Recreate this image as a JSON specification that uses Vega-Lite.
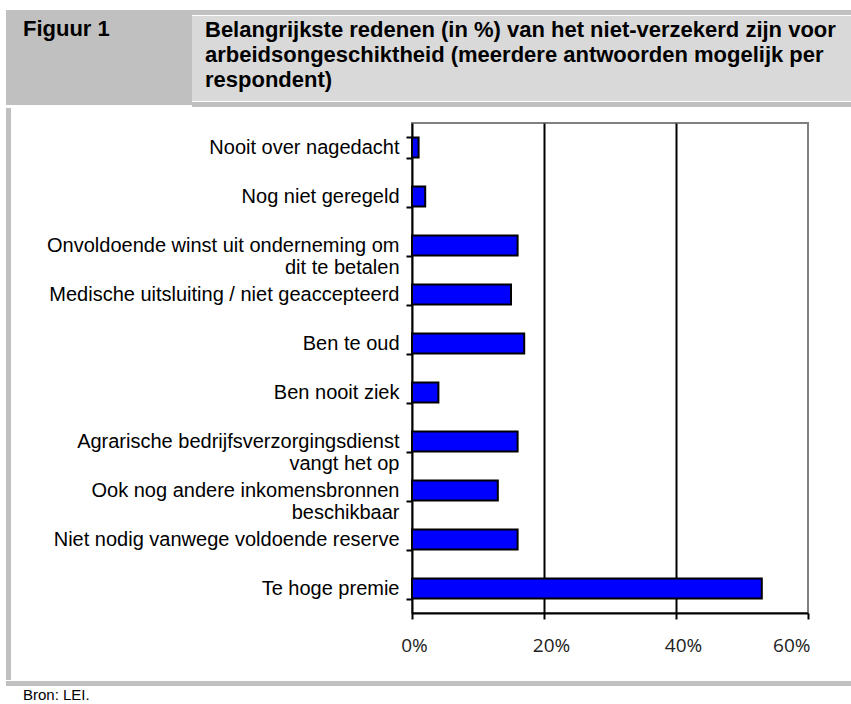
{
  "$schema": "https://vega.github.io/schema/vega-lite/v6.json",
  "background": "white",
  "padding": {"left": 5, "top": 9, "right": 0, "bottom": 0},
  "spacing": 0,
  "config": {"view": {"stroke": null}, "font": "Liberation Sans"},
  "vconcat": [
    {
      "spacing": 0,
      "hconcat": [
        {
          "width": 186, "height": 95,
          "view": {"fill": "#c0c0c0", "stroke": null},
          "title": {"text": "Figuur 1", "orient": "top", "anchor": "start", "frame": "group", "offset": -31, "dx": 17, "font": "Liberation Sans", "fontSize": 22, "fontWeight": "bold", "color": "black"},
          "data": {"values": [{"a": 1}]},
          "mark": {"type": "point", "opacity": 0},
          "encoding": {}
        },
        {
          "spacing": 0,
          "vconcat": [
            {"width": 660, "height": 5, "view": {"fill": "#c0c0c0", "stroke": null}, "data": {"values": [{"a": 1}]}, "mark": {"type": "point", "opacity": 0}, "encoding": {}},
            {
              "width": 660, "height": 85,
              "view": {"fill": "#d9d9d9", "stroke": null},
              "title": {"text": ["Belangrijkste redenen (in %) van het niet-verzekerd zijn voor", "arbeidsongeschiktheid (meerdere antwoorden mogelijk per", "respondent)"], "orient": "top", "anchor": "start", "frame": "group", "offset": -76, "dx": 13, "lineHeight": 25, "font": "Liberation Sans", "fontSize": 22, "fontWeight": "bold", "color": "black"},
              "data": {"values": [{"a": 1}]},
              "mark": {"type": "point", "opacity": 0},
              "encoding": {}
            },
            {"width": 660, "height": 5, "view": {"fill": "#c0c0c0", "stroke": null}, "data": {"values": [{"a": 1}]}, "mark": {"type": "point", "opacity": 0}, "encoding": {}}
          ]
        }
      ]
    },
    {
      "spacing": 0,
      "hconcat": [
        {"width": 5, "height": 572, "view": {"fill": "#c0c0c0", "stroke": null}, "data": {"values": [{"a": 1}]}, "mark": {"type": "point", "opacity": 0}, "encoding": {}},
        {"width": 33, "height": 10, "data": {"values": [{"a": 1}]}, "mark": {"type": "point", "opacity": 0}, "encoding": {}},
        {
          "spacing": 0,
          "vconcat": [
            {"width": 396, "height": 4, "data": {"values": [{"a": 1}]}, "mark": {"type": "point", "opacity": 0, "size": 1}, "encoding": {}},
            {
              "width": 396, "height": 490,
              "view": {"stroke": "#808080", "strokeWidth": 2},
              "data": {"values": [
                {"reden": "Nooit over nagedacht", "pct": 1},
                {"reden": "Nog niet geregeld", "pct": 2},
                {"reden": "Onvoldoende winst uit onderneming om|dit te betalen", "pct": 16},
                {"reden": "Medische uitsluiting / niet geaccepteerd", "pct": 15},
                {"reden": "Ben te oud", "pct": 17},
                {"reden": "Ben nooit ziek", "pct": 4},
                {"reden": "Agrarische bedrijfsverzorgingsdienst|vangt het op", "pct": 16},
                {"reden": "Ook nog andere inkomensbronnen|beschikbaar", "pct": 13},
                {"reden": "Niet nodig vanwege voldoende reserve", "pct": 16},
                {"reden": "Te hoge premie", "pct": 53}
              ]},
              "mark": {"type": "bar", "fill": "#0000ff", "stroke": "black", "strokeWidth": 2},
              "encoding": {
                "y": {
                  "field": "reden", "type": "nominal", "sort": null,
                  "scale": {"paddingInner": 0.59, "paddingOuter": 0.295},
                  "axis": {
                    "title": null,
                    "domainColor": "black", "domainWidth": 2,
                    "tickColor": "black", "tickWidth": 2, "tickSize": 6, "tickBand": "extent",
                    "labelFont": "Liberation Sans", "labelFontSize": 20, "labelColor": "black",
                    "labelPadding": 7, "labelLineHeight": 22, "labelLimit": 0,
                    "labelExpr": "split(datum.label, '|')"
                  }
                },
                "x": {
                  "field": "pct", "type": "quantitative",
                  "scale": {"domain": [0, 60], "nice": false},
                  "axis": {
                    "title": null, "values": [0, 20, 40, 60],
                    "labelExpr": "datum.value + '%'",
                    "domainColor": "black", "domainWidth": 2,
                    "tickColor": "black", "tickWidth": 2, "tickSize": 6,
                    "labelFont": "Open Sans", "labelFontSize": 19, "labelColor": "#222222", "labelPadding": 17,
                    "labelAlign": {"condition": {"test": "datum.value == 60", "value": "right"}, "value": "center"},
                    "labelOffset": {"condition": {"test": "datum.value == 20 || datum.value == 40", "value": 7}, "value": 2},
                    "grid": true, "gridColor": "black", "gridWidth": 2,
                    "gridOpacity": {"condition": {"test": "datum.value == 20 || datum.value == 40", "value": 1}, "value": 0}
                  }
                }
              }
            }
          ]
        }
      ]
    },
    {
      "width": 846, "height": 5,
      "view": {"fill": "#c0c0c0", "stroke": null},
      "title": {"text": "Bron: LEI.", "orient": "bottom", "anchor": "start", "frame": "group", "offset": 2, "dx": 17, "font": "Liberation Sans", "fontSize": 15, "fontWeight": "normal", "color": "black"},
      "data": {"values": [{"a": 1}]},
      "mark": {"type": "point", "opacity": 0},
      "encoding": {}
    }
  ]
}
